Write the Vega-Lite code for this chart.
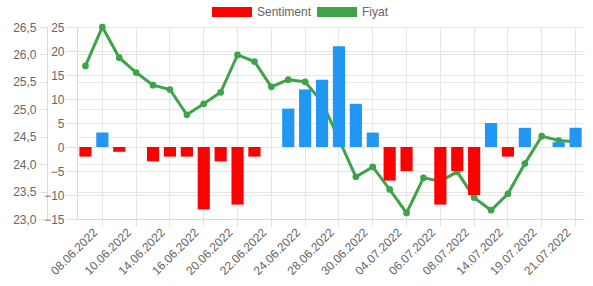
{
  "$schema": "https://vega.github.io/schema/vega-lite/v6.json",
  "autosize": "none",
  "width": 507,
  "height": 192,
  "padding": {"left": 77, "top": 27, "right": 9, "bottom": 67},
  "background": "white",
  "config": {
    "view": {"stroke": null},
    "font": "Liberation Sans",
    "axis": {
      "labelFont": "Liberation Sans",
      "labelFontSize": 12,
      "labelColor": "#666666",
      "gridColor": "#e6e6e6",
      "domainColor": "#d9d9d9",
      "tickColor": "#e0e0e0",
      "title": null
    },
    "legend": {"labelFont": "Liberation Sans", "labelFontSize": 12, "labelColor": "#666666"}
  },
  "data": {
    "values": [
      {"date": "07.06.2022", "sentiment": -2, "fiyat": 25.79},
      {"date": "08.06.2022", "sentiment": 3, "fiyat": 26.5},
      {"date": "09.06.2022", "sentiment": -1, "fiyat": 25.94},
      {"date": "10.06.2022", "sentiment": 0, "fiyat": 25.67},
      {"date": "13.06.2022", "sentiment": -3, "fiyat": 25.44},
      {"date": "14.06.2022", "sentiment": -2, "fiyat": 25.36},
      {"date": "15.06.2022", "sentiment": -2, "fiyat": 24.9},
      {"date": "16.06.2022", "sentiment": -13, "fiyat": 25.1},
      {"date": "17.06.2022", "sentiment": -3, "fiyat": 25.31},
      {"date": "20.06.2022", "sentiment": -12, "fiyat": 25.99},
      {"date": "21.06.2022", "sentiment": -2, "fiyat": 25.87},
      {"date": "22.06.2022", "sentiment": 0, "fiyat": 25.41},
      {"date": "23.06.2022", "sentiment": 8, "fiyat": 25.54},
      {"date": "24.06.2022", "sentiment": 12, "fiyat": 25.5},
      {"date": "27.06.2022", "sentiment": 14, "fiyat": 25.13},
      {"date": "28.06.2022", "sentiment": 21, "fiyat": 24.45},
      {"date": "29.06.2022", "sentiment": 9, "fiyat": 23.77},
      {"date": "30.06.2022", "sentiment": 3, "fiyat": 23.95},
      {"date": "01.07.2022", "sentiment": -7, "fiyat": 23.54},
      {"date": "04.07.2022", "sentiment": -5, "fiyat": 23.11},
      {"date": "05.07.2022", "sentiment": 0, "fiyat": 23.75},
      {"date": "06.07.2022", "sentiment": -12, "fiyat": 23.69},
      {"date": "07.07.2022", "sentiment": -5, "fiyat": 23.86},
      {"date": "08.07.2022", "sentiment": -10, "fiyat": 23.39},
      {"date": "13.07.2022", "sentiment": 5, "fiyat": 23.16},
      {"date": "14.07.2022", "sentiment": -2, "fiyat": 23.46},
      {"date": "18.07.2022", "sentiment": 4, "fiyat": 24.01},
      {"date": "19.07.2022", "sentiment": 0, "fiyat": 24.51},
      {"date": "20.07.2022", "sentiment": 1, "fiyat": 24.43},
      {"date": "21.07.2022", "sentiment": 4, "fiyat": 24.41}
    ]
  },
  "encoding": {
    "x": {
      "field": "date",
      "type": "ordinal",
      "sort": null,
      "scale": {"paddingInner": 0.28, "paddingOuter": 0.14},
      "axis": {
        "values": ["08.06.2022", "10.06.2022", "14.06.2022", "16.06.2022", "20.06.2022", "22.06.2022", "24.06.2022", "28.06.2022", "30.06.2022", "04.07.2022", "06.07.2022", "08.07.2022", "14.07.2022", "19.07.2022", "21.07.2022"],
        "labelAngle": -45,
        "labelAlign": "right",
        "labelBaseline": "middle",
        "labelOffset": -7,
        "bandPosition": 0.5,
        "grid": true,
        "tickSize": 7,
        "labelPadding": 4
      }
    }
  },
  "layer": [
    {
      "mark": {"type": "line", "color": "#3fa34a", "strokeWidth": 3, "point": {"filled": true, "size": 45, "color": "#3fa34a"}},
      "encoding": {
        "y": {
          "field": "fiyat",
          "type": "quantitative",
          "scale": {"domain": [23, 26.5], "nice": false, "zero": false},
          "axis": {
            "orient": "left",
            "offset": 30,
            "values": [23, 23.5, 24, 24.5, 25, 25.5, 26, 26.5],
            "labelExpr": "replace(format(datum.value, '.1f'), '.', ',')",
            "grid": true,
            "tickSize": 8,
            "labelPadding": 3
          }
        }
      }
    },
    {
      "mark": {"type": "bar"},
      "encoding": {
        "y": {
          "field": "sentiment",
          "type": "quantitative",
          "scale": {"domain": [-15, 25], "nice": false},
          "axis": {
            "orient": "left",
            "values": [-15, -10, -5, 0, 5, 10, 15, 20, 25],
            "grid": true,
            "tickSize": 10,
            "labelPadding": 3
          }
        },
        "color": {
          "condition": {"test": "datum.sentiment > 0", "value": "#2196f3"},
          "datum": "Sentiment",
          "type": "nominal",
          "scale": {"domain": ["Sentiment", "Fiyat"], "range": ["#ff0000", "#3fa34a"]},
          "legend": {
            "title": null,
            "orient": "none",
            "direction": "horizontal",
            "legendX": 135,
            "legendY": -35,
            "symbolType": "M-1,-0.25L1,-0.25L1,0.25L-1,0.25Z",
            "symbolSize": 1600,
            "symbolStrokeWidth": 0,
            "labelOffset": 5,
            "columnPadding": 5
          }
        }
      }
    }
  ],
  "resolve": {"scale": {"y": "independent"}, "axis": {"y": "independent"}}
}
